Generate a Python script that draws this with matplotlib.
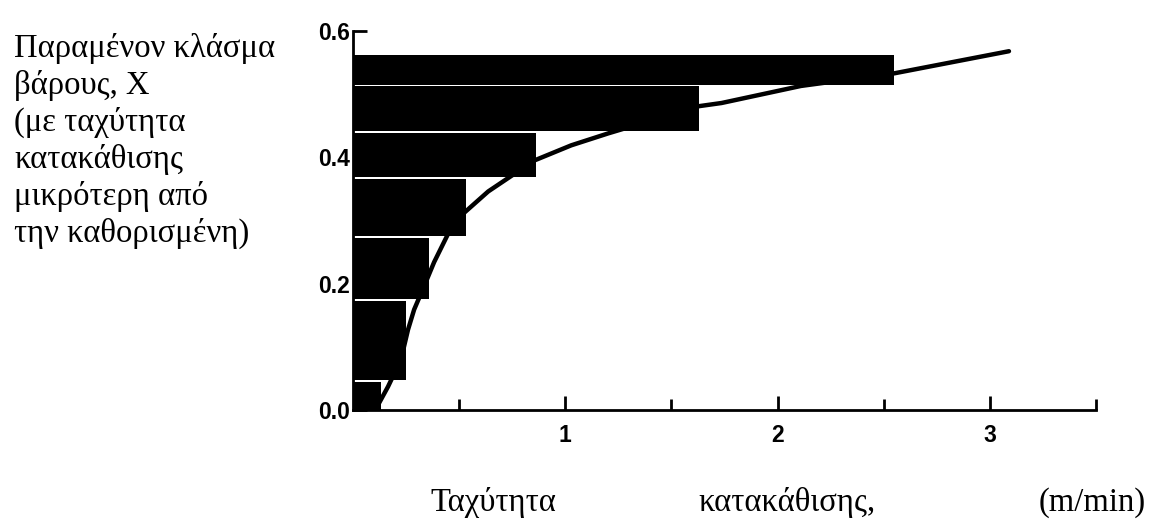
import matplotlib
matplotlib.use("Agg")
import matplotlib.pyplot as plt
from matplotlib.ticker import FixedLocator, NullFormatter

# ---- data ----
bar_bottoms = [0.0, 0.047, 0.175, 0.276, 0.369, 0.441, 0.515]
bar_tops    = [0.045, 0.172, 0.273, 0.366, 0.438, 0.513, 0.562]
bar_widths  = [0.13, 0.25, 0.36, 0.53, 0.86, 1.63, 2.55]

curve_x = [0.118, 0.165, 0.226, 0.259, 0.288, 0.335, 0.382, 0.429, 0.476,
           0.637, 0.854, 1.028, 1.203, 1.63, 1.736, 2.11, 2.55, 3.09]
curve_y = [0.008, 0.037, 0.080, 0.127, 0.159, 0.196, 0.234, 0.266, 0.298,
           0.346, 0.395, 0.419, 0.438, 0.481, 0.486, 0.513, 0.533, 0.568]

y_ticks = [0.0, 0.2, 0.4, 0.6]
y_tick_labels = ["0.0", "0.2", "0.4", "0.6"]
x_major = [1, 2, 3]
x_major_labels = ["1", "2", "3"]
x_minor = [0.5, 1.5, 2.5, 3.5]

ylabel_lines = ["Παραμένον κλάσμα", "βάρους, X", "(με ταχύτητα",
                "κατακάθισης", "μικρότερη από", "την καθορισμένη)"]
xlabel_parts = ["Ταχύτητα", "κατακάθισης,", "(m/min)"]

W, H = 1149, 520
fig = plt.figure(figsize=(W / 100, H / 100), dpi=100)
fig.patch.set_facecolor("white")

left_px, right_px, top_px, bottom_px = 353, 1096, 31, 410
ax = fig.add_axes([left_px / W, 1 - bottom_px / H,
                   (right_px - left_px) / W, (bottom_px - top_px) / H])

heights = [t - b for t, b in zip(bar_tops, bar_bottoms)]
ax.barh(bar_bottoms, bar_widths, height=heights, left=0, align="edge",
        color="black", edgecolor="none", zorder=2)
ax.plot(curve_x, curve_y, color="black", lw=3.2, solid_capstyle="round",
        solid_joinstyle="round", zorder=3)

ax.set_xlim(0, 3.5)
ax.set_ylim(0, 0.6)

for s in ["top", "right"]:
    ax.spines[s].set_visible(False)
for s in ["left", "bottom"]:
    ax.spines[s].set_linewidth(2.0)
    ax.spines[s].set_zorder(4)

tick_font = dict(fontfamily="Liberation Sans", fontweight="bold", fontsize=16.5)
ax.set_yticks(y_ticks)
ax.set_yticklabels(y_tick_labels, **tick_font)
ax.tick_params(axis="y", direction="in", length=10, width=2.0, pad=2)

ax.xaxis.set_major_locator(FixedLocator(x_major))
ax.set_xticklabels(x_major_labels, **tick_font)
ax.xaxis.set_minor_locator(FixedLocator(x_minor))
ax.xaxis.set_minor_formatter(NullFormatter())
ax.tick_params(axis="x", which="major", direction="in", length=10,
               width=2.0, pad=10)
ax.tick_params(axis="x", which="minor", direction="in", length=8, width=2.0)

# left multi-line label
line_baselines = [57, 94, 131, 168, 205, 242]
for txt, yb in zip(ylabel_lines, line_baselines):
    fig.text(14 / W, 1 - yb / H, txt, fontfamily="Liberation Serif",
             fontsize=23.5, ha="left", va="baseline")

# spaced x label
x_pos = [(430, "left"), (698, "left"), (1146, "right")]
for txt, (xp, ha) in zip(xlabel_parts, x_pos):
    fig.text(xp / W, 1 - 511 / H, txt, fontfamily="Liberation Serif",
             fontsize=23.5, ha=ha, va="baseline")

fig.savefig("out.png", dpi=100, facecolor="white")
